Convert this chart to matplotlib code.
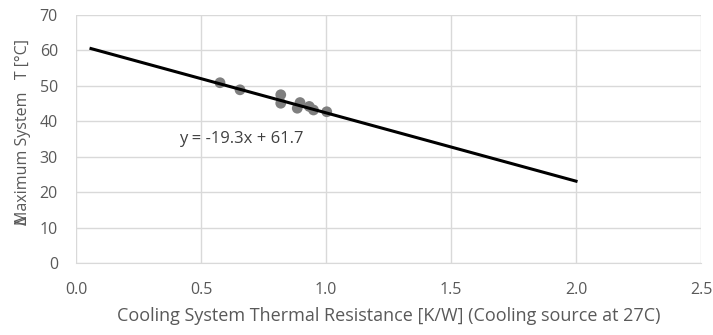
import numpy as np
import matplotlib.pyplot as plt

# measured points: thermal resistance [K/W] vs max system delta-T [C]
res = [0.576, 0.656, 0.819, 0.819, 0.885, 0.896, 0.933, 0.95, 1.003]
dT = [50.9, 48.9, 47.5, 45.1, 43.7, 45.3, 44.2, 43.2, 42.7]

# linear trend from the fit
slope = -19.3
intercept = 61.7
trend_x = [0.06, 2.0]

xticks = [0.0, 0.5, 1.0, 1.5, 2.0, 2.5]
yticks = [0, 10, 20, 30, 40, 50, 60, 70]

grey = '#595959'
plt.rcParams['font.family'] = ['Open Sans', 'DejaVu Sans']

fig = plt.figure(figsize=(7.13, 3.35), dpi=100)
ax = fig.add_axes([0.1066, 0.215, 0.8766, 0.74])

ax.scatter(res, dT, s=60, color='#7f7f7f', zorder=3, edgecolors='none')
tx = np.array(trend_x)
ax.plot(tx, slope * tx + intercept, color='black', lw=2.2, zorder=4)
ax.text(0.412, 34.9, 'y = %.1fx + %.1f' % (slope, intercept), fontsize=12,
        color='#404040', va='center', ha='left')

ax.set_xlim(0, 2.5)
ax.set_ylim(0, 70)
ax.set_xticks(xticks)
ax.set_yticks(yticks)
ax.set_xticklabels(['%.1f' % v for v in xticks])
ax.grid(True, color='#d9d9d9', lw=1)
ax.set_axisbelow(True)
for s in ['top', 'right', 'left']:
    ax.spines[s].set_visible(False)
ax.spines['bottom'].set_color('#d9d9d9')
ax.tick_params(length=0, labelsize=11.5, colors=grey)
ax.tick_params(axis='x', pad=13.5)
ax.tick_params(axis='y', pad=13)

ax.set_xlabel('Cooling System Thermal Resistance [K/W] (Cooling source at 27C)',
              fontsize=13, color=grey, labelpad=7)
# y label, with the delta glyph sitting on top of the "M"
fig.text(23 / 713, 1 - 225 / 335, 'Maximum System   T [°C]', rotation=90,
         fontsize=11.5, color=grey, ha='center', va='bottom')
fig.text(23 / 713, 1 - 225 / 335, 'Δ', rotation=90,
         fontsize=11.5, color=grey, ha='center', va='bottom')

plt.savefig('out.png', dpi=100)
